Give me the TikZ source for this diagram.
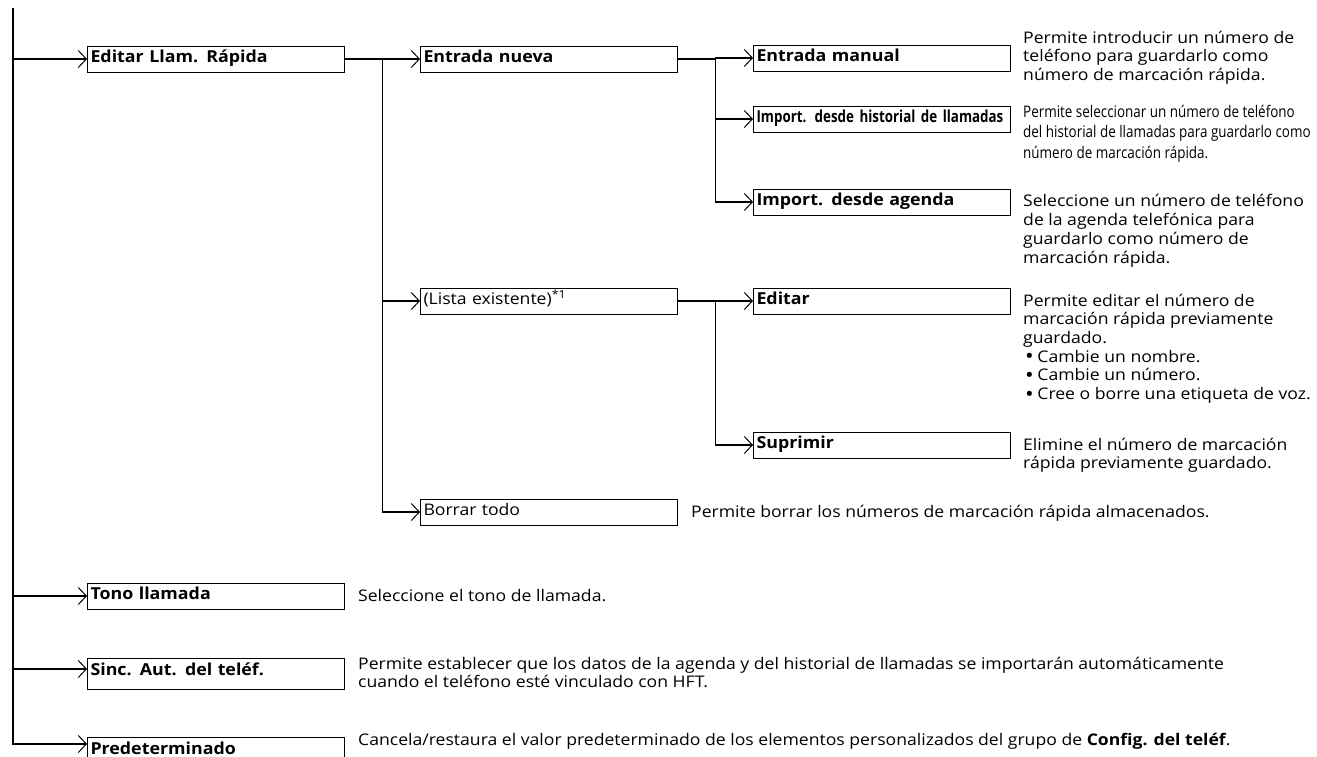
\documentclass[tikz,border=0pt]{standalone}
\usepackage{fontspec}
\setmainfont{Open Sans}
\newfontfamily\descfont[FakeStretch=1.10]{Open Sans}
\newfontfamily\narrowfont[FakeStretch=0.84]{Open Sans}
\newfontfamily\labelfont[FakeStretch=1.08, WordSpace=0.55]{Open Sans}
\newfontfamily\narrowlabel[FakeStretch=0.81, WordSpace=0.6]{Open Sans}
\newcommand{\bul}{\hspace*{2pt}\raisebox{-1.6pt}{\fontsize{21}{0}\selectfont\textbullet}\hspace{3.5pt}}
\usetikzlibrary{arrows.meta,positioning,calc}

\begin{document}
\begin{tikzpicture}[
  x=1pt, y=-1pt,
  menubox/.style={draw, line width=1pt, anchor=west, minimum width=257pt, minimum height=26pt,
    text width=251pt, inner xsep=3pt, inner ysep=0pt, text height=11pt, text depth=4pt,
    align=left, font=\labelfont\fontsize{16.5}{18}\selectfont\bfseries},
  plainbox/.style={menubox, font=\descfont\fontsize{16}{18}\selectfont},
  desc/.style={anchor=base west, inner sep=0pt, align=left, font=\descfont\fontsize{16}{18.7}\selectfont},
  line/.style={line width=1.8pt},
  arr/.style={line width=1.8pt, -{Straight Barb[length=8pt,width=17pt,line width=1pt]}}
]
\useasboundingbox (0,0) rectangle (1317,756);

% first level
\coordinate (trunk) at (13,8);
\node[menubox] (editar) at (87,59) {Editar Llam. Rápida};
\node[menubox] (tono) at (87,596) {Tono llamada};
\coordinate (sincin) at (87,669);
\node[menubox, anchor=north west, minimum height=31pt, text depth=9pt] (sinc) at (87,658) {Sinc. Aut. del teléf.};
\coordinate (predin) at (87,744);
\node[menubox, anchor=north west] (predet) at (87,737) {Predeterminado};

% second level
\node[menubox] (nueva) at (420,59) {Entrada nueva};
\node[plainbox] (lista) at (420,301) {(Lista existente)\textsuperscript{*1}};
\node[plainbox] (borrar) at (420,512) {Borrar todo};

% third level
\node[menubox] (manual) at (753,58) {Entrada manual};
\node[menubox, font=\narrowlabel\fontsize{16.5}{18}\selectfont\bfseries] (hist) at (753,119) {\mbox{Import. desde historial de llamadas}};
\node[menubox] (agenda) at (753,202) {Import. desde agenda};
\node[menubox] (editr) at (753,301) {Editar};
\node[menubox] (supr) at (753,445) {Suprimir};

% descriptions (anchored at the baseline of their last line)
\node[desc] (dmanual) at ($(manual.east)+(12,22.4)$)
  {Permite introducir un número de\\teléfono para guardarlo como\\número de marcación rápida.};
\node[desc, font=\narrowfont\fontsize{16}{20.5}\selectfont] (dhist) at ($(hist.east)+(12,39)$)
  {Permite seleccionar un número de teléfono\\del historial de llamadas para guardarlo como\\número de marcación rápida.};
\node[desc] (dagenda) at ($(agenda.east)+(12,61)$)
  {Seleccione un número de teléfono\\de la agenda telefónica para\\guardarlo como número de\\marcación rápida.};
\node[desc] (deditr) at ($(editr.east)+(12,98.5)$)
  {Permite editar el número de\\marcación rápida previamente\\guardado.\\
   \bul Cambie un nombre.\\
   \bul Cambie un número.\\
   \bul Cree o borre una etiqueta de voz.};
\node[desc] (dsupr) at ($(supr.east)+(12,23.7)$)
  {Elimine el número de marcación\\rápida previamente guardado.};
\node[desc] (dborrar) at ($(borrar.east)+(13,5)$)
  {Permite borrar los números de marcación rápida almacenados.};
\node[desc] (dtono) at ($(tono.east)+(13,5)$) {Seleccione el tono de llamada.};
\node[desc] (dsinc) at ($(sinc.north east)+(13,29.7)$)
  {Permite establecer que los datos de la agenda y del historial de llamadas se importarán automáticamente\\cuando el teléfono esté vinculado con HFT.};
\node[desc] (dpredet) at ($(predet.north east)+(13,8)$)
  {Cancela/restaura el valor predeterminado de los elementos personalizados del grupo de \textbf{Config. del teléf}.};

% connectors
\draw[arr] (trunk) |- (predin);
\draw[arr] (trunk |- editar.west) -- (editar.west);
\draw[arr] (trunk |- tono.west) -- (tono.west);
\draw[arr] (trunk |- sincin) -- (sincin);

\draw[arr] (editar.east) -- (nueva.west);
\draw[arr] ($(editar.east)!0.5!(nueva.west)$) |- (lista.west);
\draw[arr] ($(editar.east)!0.5!(nueva.west)$) |- (borrar.west);

\draw[line] (nueva.east) -- ($(nueva.east)!0.5!(manual.west |- nueva.east)$) coordinate (fork1);
\draw[arr] (fork1) |- (manual.west);
\draw[arr] (fork1) |- (hist.west);
\draw[arr] (fork1) |- (agenda.west);

\draw[arr] (lista.east) -- (editr.west);
\draw[arr] ($(lista.east)!0.5!(editr.west)$) |- (supr.west);
\end{tikzpicture}
\end{document}
